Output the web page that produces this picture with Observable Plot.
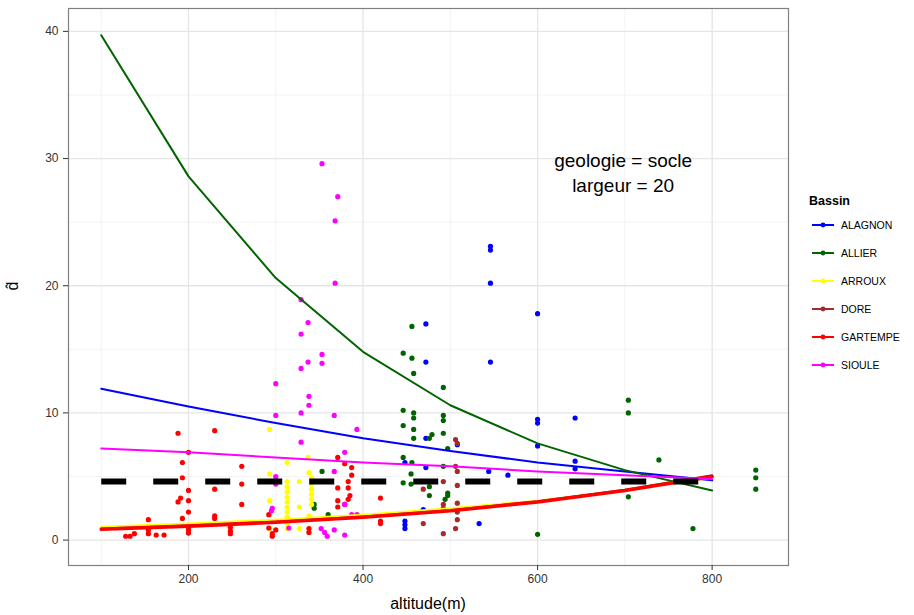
<!DOCTYPE html>
<html><head><meta charset="utf-8">
<script src="https://cdn.jsdelivr.net/npm/d3@7"></script>
<script src="https://cdn.jsdelivr.net/npm/@observablehq/plot@0.6"></script>
<style>body{margin:0;background:#fff;}</style>
</head><body><div id="chart"></div>
<script>
const bassins = ["ALAGNON","ALLIER","ARROUX","DORE","GARTEMPE","SIOULE"];
const couleurs = ["#0000ff","#006400","#ffff00","#a52a2a","#ff0000","#ff00ff"];

// fitted curves (altitude, d-hat)
const fitAltitude = [100,200,300,400,500,600,700,800];
const fitALAGNON  = [11.9,10.5,9.2,8.0,7.0,6.1,5.4,4.7];
const fitALLIER   = [39.7,28.6,20.6,14.8,10.6,7.6,5.5,3.9];
const fitARROUX   = [1.05,1.3,1.6,2.0,2.5,3.1,3.9,4.9];
const fitDORE     = [0.9,1.15,1.45,1.85,2.35,3.05,3.95,5.1];
const fitGARTEMPE = [0.85,1.1,1.4,1.8,2.3,3.0,3.9,5.0];
const fitSIOULE   = [7.2,6.9,6.5,6.1,5.8,5.4,5.1,4.8];

// reference dashed line
const refAltitude = [100,800];
const refValue = 4.6;

// observed points [altitude, d]
const ptsALAGNON = [[546,23.1],[546,22.8],[546,20.2],[472,17.0],[472,14.0],[546,14.0],[600,17.8],[600,9.5],[600,9.2],[600,7.4],[472,8.0],[508,7.5],[448,6.1],[472,5.7],[544,5.4],[566,5.1],[643,9.6],[643,6.2],[643,5.6],[448,1.5],[448,1.2],[448,0.9],[469,2.4],[533,1.3]];
const ptsALLIER = [[456,16.8],[446,14.7],[456,14.3],[458,13.1],[492,12.0],[446,10.2],[458,10.0],[458,9.6],[492,9.8],[492,9.4],[446,9.0],[458,8.7],[492,8.4],[479,8.3],[476,8.0],[458,8.0],[497,7.2],[446,6.5],[456,6.1],[492,5.8],[455,5.2],[446,4.5],[455,4.4],[476,4.2],[476,3.5],[497,3.7],[497,3.5],[494,3.2],[353,5.4],[344,2.8],[344,2.5],[360,2.0],[600,0.45],[704,11.0],[704,10.0],[704,3.4],[739,6.3],[778,0.9],[850,5.5],[850,4.9],[850,4.0]];
const ptsARROUX = [[293,8.7],[313,6.1],[337,6.5],[293,5.2],[338,5.3],[341,4.9],[327,4.6],[313,4.6],[313,4.2],[313,3.8],[313,3.4],[313,3.0],[313,2.6],[313,2.2],[313,1.8],[313,1.3],[313,0.9],[341,4.4],[341,4.0],[341,3.6],[341,3.2],[341,2.8],[327,2.6],[293,3.1],[293,2.0],[293,0.9],[327,0.9],[338,0.9],[338,1.9],[300,1.5]];
const ptsDORE = [[506,7.9],[508,7.6],[506,5.8],[508,5.4],[492,4.6],[469,4.0],[508,4.3],[492,2.8],[508,2.9],[508,2.2],[508,1.6],[506,0.9],[469,1.3],[492,0.5],[492,2.5]];
const ptsGARTEMPE = [[128,0.3],[133,0.3],[138,0.5],[154,1.6],[154,0.5],[154,0.8],[163,0.4],[172,0.4],[188,8.4],[200,6.9],[193,6.1],[193,4.9],[200,3.9],[191,3.3],[188,3.0],[200,3.1],[200,2.2],[193,1.7],[200,0.55],[200,0.8],[200,1.0],[230,8.6],[230,4.0],[230,1.9],[230,1.7],[261,5.8],[261,4.4],[261,2.8],[248,0.7],[248,0.5],[248,1.0],[292,2.0],[296,0.5],[292,0.95],[296,0.3],[300,0.8],[371,6.5],[379,6.0],[387,5.7],[387,5.1],[383,4.6],[383,4.1],[385,3.5],[383,3.2],[371,4.1],[371,3.1],[371,2.6],[379,2.8],[420,3.3],[420,1.5],[420,1.3],[338,0.9],[338,0.6]];
const ptsSIOULE = [[353,29.6],[371,27.0],[368,25.1],[368,20.2],[329,18.9],[337,17.1],[329,16.2],[353,14.6],[353,13.9],[337,14.0],[329,13.5],[300,12.3],[338,11.3],[338,10.6],[300,9.8],[329,10.0],[367,9.8],[393,8.7],[329,7.7],[379,6.9],[367,5.4],[300,5.0],[300,4.4],[295,2.3],[296,2.5],[315,0.95],[352,0.9],[356,0.6],[359,0.3],[367,0.8],[379,0.4],[387,2.0],[393,2.0],[379,2.8]];

const xTicks = [200,400,600,800];
const yTicks = [0,10,20,30,40];

const fits = {ALAGNON:fitALAGNON, ALLIER:fitALLIER, ARROUX:fitARROUX, DORE:fitDORE, GARTEMPE:fitGARTEMPE, SIOULE:fitSIOULE};
const pts = {ALAGNON:ptsALAGNON, ALLIER:ptsALLIER, ARROUX:ptsARROUX, DORE:ptsDORE, GARTEMPE:ptsGARTEMPE, SIOULE:ptsSIOULE};

const points = bassins.flatMap(b => pts[b].map(([a, d]) => ({bassin: b, altitude: a, d})));
const lineData = b => fitAltitude.map((a, i) => ({bassin: b, altitude: a, d: fits[b][i]}));
const refData = refAltitude.map(a => ({altitude: a, d: refValue}));

const chart = Plot.plot({
  width: 914, height: 615,
  marginLeft: 68, marginRight: 126, marginTop: 8, marginBottom: 50,
  style: {fontFamily: "'Liberation Sans', Arial, sans-serif", background: "#fff", color: "#333"},
  x: {domain: [62.5, 887.5], label: null},
  y: {domain: [-2, 41.8], label: null},
  color: {domain: bassins, range: couleurs},
  marks: [
    Plot.gridX([100,300,500,700], {stroke: "#f3f3f3", strokeOpacity: 1}),
    Plot.gridY([5,15,25,35], {stroke: "#f3f3f3", strokeOpacity: 1}),
    Plot.gridX(xTicks, {stroke: "#e5e5e5", strokeOpacity: 1, strokeWidth: 1.3}),
    Plot.gridY(yTicks, {stroke: "#e5e5e5", strokeOpacity: 1, strokeWidth: 1.3}),
    Plot.dot(points, {x: "altitude", y: "d", fill: "bassin", r: 2.6, stroke: "none"}),
    ...bassins.map(b => Plot.line(lineData(b), {x: "altitude", y: "d", stroke: "bassin", strokeWidth: b === "GARTEMPE" ? 3.6 : 2})),
    Plot.line(refData, {x: "altitude", y: "d", stroke: "#000", strokeWidth: 6, strokeDasharray: "25,27", strokeLinecap: "butt"}),
    Plot.text([{altitude: 698, d: 29.0, t: "geologie = socle\nlargeur = 20"}], {x: "altitude", y: "d", text: "t", fontSize: 19, lineHeight: 1.32, fill: "#000"}),
    Plot.frame({stroke: "#808080", strokeWidth: 1.2}),
    Plot.axisX(xTicks, {tickSize: 5, tickPadding: 4, fontSize: 12, label: null}),
    Plot.axisY(yTicks, {tickSize: 5, tickPadding: 5, fontSize: 12, label: null})
  ]
});

const svg = d3.select(chart);
svg.append("text").attr("x", 428).attr("y", 609).attr("text-anchor", "middle")
  .attr("font-size", 16).attr("fill", "#000").text("altitude(m)");
svg.append("text").attr("transform", "translate(18,286) rotate(-90)").attr("text-anchor", "middle")
  .attr("font-size", 16).attr("fill", "#000").text("d\u0302");

const leg = svg.append("g").attr("text-anchor", "start");
leg.append("text").attr("x", 809).attr("y", 205).attr("font-size", 12.5).attr("font-weight", "bold").attr("fill", "#000").text("Bassin");
bassins.forEach((b, i) => {
  const y = 225 + i * 28;
  leg.append("line").attr("x1", 812).attr("x2", 834).attr("y1", y).attr("y2", y).attr("stroke", couleurs[i]).attr("stroke-width", 2);
  leg.append("circle").attr("cx", 823).attr("cy", y).attr("r", 2.4).attr("fill", couleurs[i]);
  leg.append("text").attr("x", 841).attr("y", y + 4).attr("font-size", 10.5).attr("fill", "#000").text(b);
});

document.getElementById("chart").appendChild(chart);
</script>
</body></html>
